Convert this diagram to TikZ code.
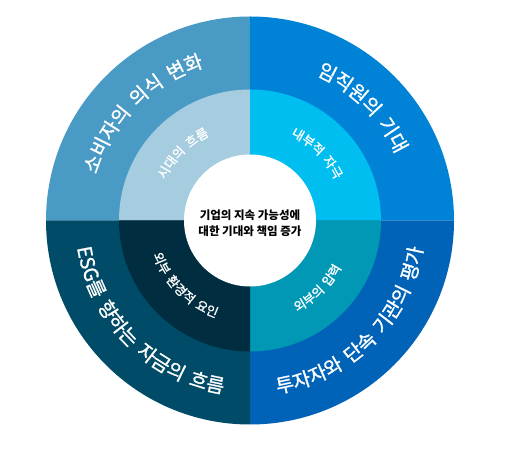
\documentclass[tikz,border=0pt]{standalone}
\usepackage{fontspec}
\newfontfamily\krfont{Noto Sans CJK KR}
\newfontfamily\krmid{Noto Sans CJK KR}[FakeBold=1.2]
\usetikzlibrary{decorations.text}
\definecolor{tlout}{RGB}{74,154,198}
\definecolor{tlin}{RGB}{166,204,224}
\definecolor{trout}{RGB}{0,131,214}
\definecolor{trin}{RGB}{0,190,240}
\definecolor{brout}{RGB}{0,99,183}
\definecolor{brin}{RGB}{0,152,180}
\definecolor{blout}{RGB}{0,76,104}
\definecolor{blin}{RGB}{0,46,64}
\newcommand\gap{{\hskip0.38em}}
\begin{document}
\begin{tikzpicture}[x=1pt,y=1pt,
  ringtext/.style={decorate, decoration={text along path, text align=center, text={#1}}}]
\useasboundingbox[fill=white] (0,0) rectangle (505,449);
\coordinate (C) at (250,228.5);
\def\Ro{204}
\def\Rm{131}
\def\Ri{66}
\def\big{|\krmid\fontsize{19.5}{19.5}\selectfont\color{white}|}
\def\sml{|\krmid\fontsize{12.8}{12.8}\selectfont\color{white}|}
% outer sectors
\fill[tlout] (C) -- ([shift={(180:\Ro)}]C) arc[start angle=180,end angle=90,radius=\Ro] -- cycle;
\fill[trout] (C) -- ([shift={(90:\Ro)}]C) arc[start angle=90,end angle=0,radius=\Ro] -- cycle;
\fill[brout] (C) -- ([shift={(0:\Ro)}]C) arc[start angle=0,end angle=-90,radius=\Ro] -- cycle;
\fill[blout] (C) -- ([shift={(270:\Ro)}]C) arc[start angle=270,end angle=180,radius=\Ro] -- cycle;
% inner sectors
\fill[tlin] (C) -- ([shift={(180:\Rm)}]C) arc[start angle=180,end angle=90,radius=\Rm] -- cycle;
\fill[trin] (C) -- ([shift={(90:\Rm)}]C) arc[start angle=90,end angle=0,radius=\Rm] -- cycle;
\fill[brin] (C) -- ([shift={(0:\Rm)}]C) arc[start angle=0,end angle=-90,radius=\Rm] -- cycle;
\fill[blin] (C) -- ([shift={(270:\Rm)}]C) arc[start angle=270,end angle=180,radius=\Rm] -- cycle;
% centre
\fill[white] (C) circle[radius=\Ri];
\node[font=\krfont\bfseries\fontsize{11.5}{16.5}\selectfont, align=center, text=black, inner sep=0pt] (centre) at (250,226) {기업의 지속 가능성에\\대한 기대와 책임 증가};
% outer ring texts
\path[ringtext={\big 소비자의\gap 의식\gap 변화}]
  ([shift={(180:160)}]C) arc[start angle=180,end angle=90,radius=160];
\path[ringtext={\big 임직원의\gap 기대}]
  ([shift={(90:160)}]C) arc[start angle=90,end angle=0,radius=160];
\path[ringtext={\big 투자자와\gap 단속\gap 기관의\gap 평가}]
  ([shift={(270:175)}]C) arc[start angle=270,end angle=360,radius=175];
\path[ringtext={\big ESG를\gap 향하는\gap 자금의\gap 흐름}]
  ([shift={(180:175)}]C) arc[start angle=180,end angle=270,radius=175];
% inner ring texts
\path[ringtext={\sml 시대의\gap 흐름}]
  ([shift={(180:94)}]C) arc[start angle=180,end angle=90,radius=94];
\path[ringtext={\sml 내부적\gap 자극}]
  ([shift={(90:94)}]C) arc[start angle=90,end angle=0,radius=94];
\path[ringtext={\sml 외부의\gap 압력}]
  ([shift={(270:103)}]C) arc[start angle=270,end angle=360,radius=103];
\path[ringtext={\sml 외부\gap 환경적\gap 요인}]
  ([shift={(180:103)}]C) arc[start angle=180,end angle=270,radius=103];
\end{tikzpicture}
\end{document}
